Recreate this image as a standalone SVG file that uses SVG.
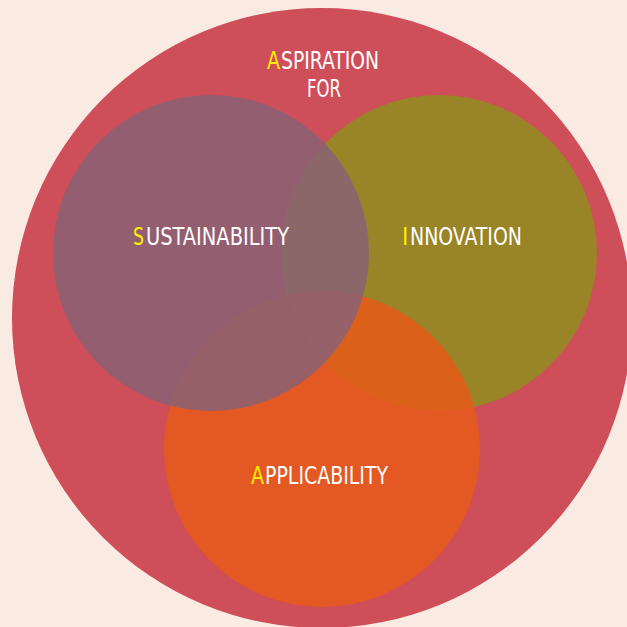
<svg xmlns="http://www.w3.org/2000/svg" width="627" height="627" viewBox="0 0 627 627">
<style>
.t{font-family:"DejaVu Sans Condensed","DejaVu Sans",sans-serif;font-stretch:condensed;font-size:24px;fill:#ffffff}
.h{fill:#ffee00}
</style>
<rect width="627" height="627" fill="#FAEBE2"/>
<g id="aspiration">
<circle cx="322" cy="318" r="310" fill="#CE4E5A"/>
<text class="t h" x="267" y="69" textLength="13" lengthAdjust="spacingAndGlyphs">A</text>
<text class="t" x="281" y="69" textLength="98" lengthAdjust="spacingAndGlyphs">SPIRATION</text>
<text class="t" x="307" y="97" textLength="34" lengthAdjust="spacingAndGlyphs">FOR</text>
</g>
<g id="innovation">
<circle cx="439" cy="253" r="158" fill="#998427"/>
<text class="t h" x="402" y="245">I</text>
<text class="t" x="410" y="245" textLength="112" lengthAdjust="spacingAndGlyphs">NNOVATION</text>
</g>
<g id="applicability">
<circle cx="322" cy="449" r="158" fill="#E65A1A" fill-opacity="0.85"/>
<text class="t h" x="251" y="484" textLength="13" lengthAdjust="spacingAndGlyphs">A</text>
<text class="t" x="265" y="484" textLength="123" lengthAdjust="spacingAndGlyphs">PPLICABILITY</text>
</g>
<g id="sustainability">
<circle cx="211" cy="253" r="158" fill="#8A6176" fill-opacity="0.85"/>
<text class="t h" x="133" y="245" textLength="11" lengthAdjust="spacingAndGlyphs">S</text>
<text class="t" x="146" y="245" textLength="143" lengthAdjust="spacingAndGlyphs">USTAINABILITY</text>
</g>
<g id="connectors"/>
</svg>
